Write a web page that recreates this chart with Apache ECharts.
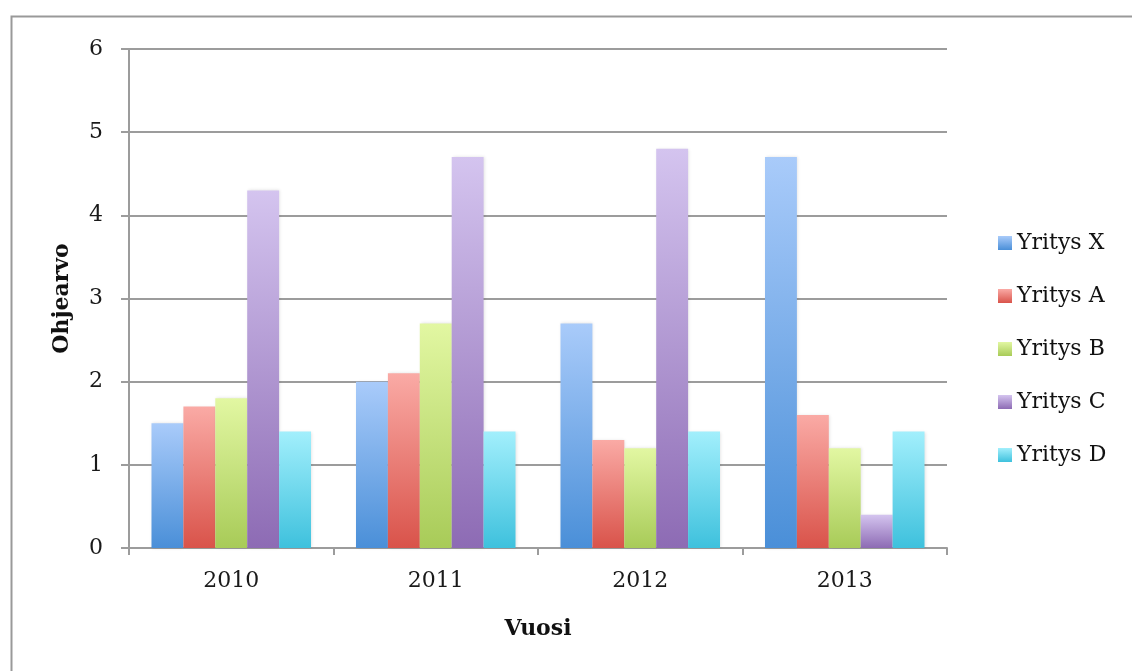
<!DOCTYPE html>
<html>
<head>
<meta charset="utf-8">
<script src="https://cdn.jsdelivr.net/npm/echarts@6/dist/echarts.min.js"></script>
<style>
  html, body { margin: 0; padding: 0; background: #fff; }
  #chart { width: 1132px; height: 671px; }
</style>
</head>
<body>
<div id="chart"></div>
<script>
// Years on the category axis
const years = ['2010', '2011', '2012', '2013'];

// Guide values per company
const yritysX = [1.5, 2.0, 2.7, 4.7];
const yritysA = [1.7, 2.1, 1.3, 1.6];
const yritysB = [1.8, 2.7, 1.2, 1.2];
const yritysC = [4.3, 4.7, 4.8, 0.4];
const yritysD = [1.4, 1.4, 1.4, 1.4];

const seriesNames = ['Yritys X', 'Yritys A', 'Yritys B', 'Yritys C', 'Yritys D'];
const seriesData = [yritysX, yritysA, yritysB, yritysC, yritysD];

// Light top / dark bottom colour pairs for each company
const palette = [
  ['#a9cbfa', '#4a8fd8'],
  ['#faaaa5', '#d9534a'],
  ['#e2f7a2', '#a8cb58'],
  ['#d4c4ef', '#8d6bb4'],
  ['#a2effc', '#3ec1dd']
];

const FONT = 'DejaVu Serif';
const GRID_COLOR = '#9c9c9c';

const gradient = (pair) => new echarts.graphic.LinearGradient(0, 0, 0, 1, [
  { offset: 0, color: pair[0] },
  { offset: 1, color: pair[1] }
]);

const chart = echarts.init(document.getElementById('chart'), null, { renderer: 'canvas' });

const series = seriesNames.map((name, i) => ({
  name: name,
  type: 'bar',
  data: seriesData[i],
  barGap: '0%',
  barCategoryGap: '22%',
  itemStyle: {
    color: gradient(palette[i]),
    shadowColor: 'rgba(0,0,0,0.12)',
    shadowBlur: 3,
    shadowOffsetX: 1
  }
}));

chart.setOption({
  animation: false,
  backgroundColor: '#ffffff',
  graphic: [{
    type: 'rect',
    left: 9, top: 14,
    shape: { width: 1200, height: 800 },
    style: { fill: 'none', stroke: '#999999', lineWidth: 2 },
    silent: true,
    z: -1
  }],
  grid: { left: 129, right: 185, top: 49, bottom: 123, containLabel: false },
  legend: {
    orient: 'vertical',
    left: 998,
    top: 232,
    padding: 0,
    itemWidth: 14,
    itemHeight: 14,
    itemGap: 31,
    icon: 'rect',
    textStyle: { fontFamily: FONT, fontSize: 22, color: '#111' },
    data: seriesNames.map((n, i) => ({ name: n, itemStyle: { color: gradient(palette[i]) } }))
  },
  xAxis: {
    type: 'category',
    data: years,
    name: 'Vuosi',
    nameLocation: 'middle',
    nameGap: 70,
    nameTextStyle: { fontFamily: FONT, fontSize: 22, fontWeight: 'bold', color: '#111' },
    axisLine: { lineStyle: { color: GRID_COLOR, width: 2 } },
    axisTick: { show: true, length: 7, lineStyle: { color: GRID_COLOR, width: 2 } },
    axisLabel: { fontFamily: FONT, fontSize: 22, color: '#1a1a1a', margin: 22 }
  },
  yAxis: {
    type: 'value',
    min: 0, max: 6, interval: 1,
    name: 'Ohjearvo',
    nameLocation: 'middle',
    nameGap: 56,
    nameTextStyle: { fontFamily: FONT, fontSize: 22, fontWeight: 'bold', color: '#111' },
    axisLine: { show: true, lineStyle: { color: GRID_COLOR, width: 2 } },
    axisTick: { show: true, length: 8, lineStyle: { color: GRID_COLOR, width: 2 } },
    splitLine: { lineStyle: { color: GRID_COLOR, width: 2 } },
    axisLabel: { fontFamily: FONT, fontSize: 22, color: '#1a1a1a', margin: 26 }
  },
  series: series
});
</script>
</body>
</html>
